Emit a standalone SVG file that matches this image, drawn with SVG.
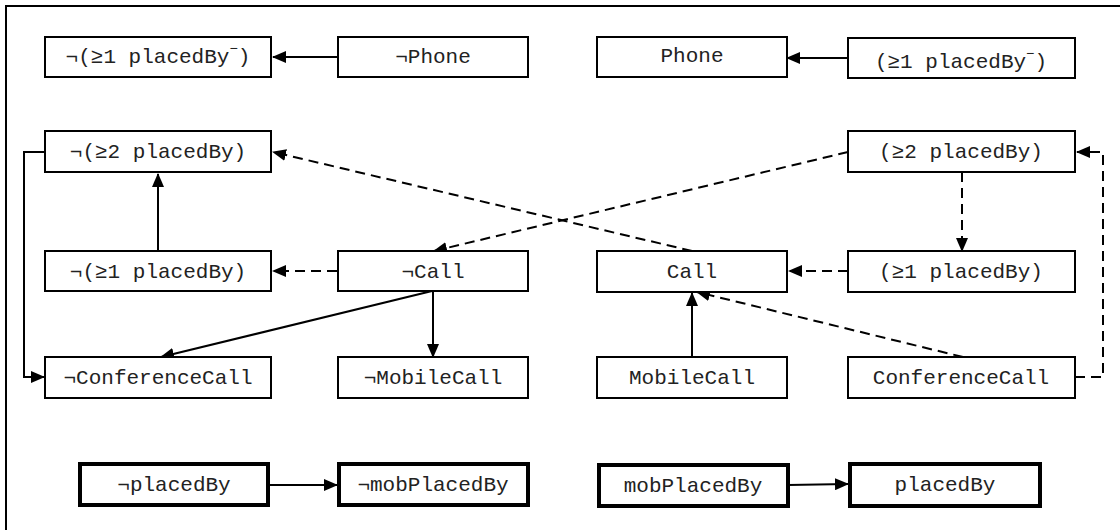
<svg xmlns="http://www.w3.org/2000/svg" width="1120" height="530" viewBox="0 0 1120 530">
<style>
.n{fill:#fff;stroke:#000;stroke-width:2}
.b{fill:#fff;stroke:#000;stroke-width:4}
text{font-family:"Liberation Mono","Courier New",monospace;font-size:21px;fill:#222;text-anchor:middle}
.e{fill:none;stroke:#000;stroke-width:2;marker-end:url(#ah)}
.d{stroke-dasharray:10,6}
</style>
<defs>
<marker id="ah" markerUnits="userSpaceOnUse" markerWidth="14" markerHeight="12" refX="13" refY="6" orient="auto">
<path d="M0,0 L14,6 L0,12 Z" fill="#000"/>
</marker>
</defs>
<rect x="6" y="6" width="1130" height="540" fill="#fff" stroke="#000" stroke-width="2"/>
<g id="connectors">
<line class="e" x1="338" y1="57" x2="273" y2="57"/>
<line class="e" x1="848" y1="58" x2="787" y2="58"/>
<line class="e d" x1="692" y1="251" x2="273" y2="152"/>
<line class="e d" x1="848" y1="152" x2="434" y2="251"/>
<line class="e d" x1="962" y1="172" x2="962" y2="251"/>
<line class="e d" x1="848" y1="271" x2="789" y2="271"/>
<line class="e d" x1="337" y1="271" x2="273" y2="271"/>
<line class="e" x1="158" y1="251" x2="158" y2="174"/>
<path class="e" d="M44,152 H24 V377 H44"/>
<line class="e" x1="432" y1="291" x2="161" y2="357"/>
<line class="e" x1="433" y1="291" x2="433" y2="357"/>
<line class="e" x1="692" y1="357" x2="692" y2="293"/>
<line class="e d" x1="963" y1="357" x2="697" y2="292"/>
<path class="e d" d="M1075,377 H1103 V152 H1077"/>
<line class="e" x1="268" y1="485" x2="337" y2="485"/>
<line class="e" x1="788" y1="485" x2="848" y2="484"/>
</g>
<g id="n_not_ge1_inv"><rect class="n" x="45" y="37" width="226" height="40"/><text x="158" y="63">¬(≥1 placedBy<tspan font-size="14" dy="-10">−</tspan><tspan dy="10">)</tspan></text></g>
<g id="n_not_phone"><rect class="n" x="338" y="37" width="190" height="40"/><text x="433" y="63">¬Phone</text></g>
<g id="n_phone"><rect class="n" x="597" y="37" width="190" height="40"/><text x="692" y="62">Phone</text></g>
<g id="n_ge1_inv"><rect class="n" x="848" y="38" width="227" height="40"/><text x="961" y="68">(≥1 placedBy<tspan font-size="14" dy="-10">−</tspan><tspan dy="10">)</tspan></text></g>
<g id="n_not_ge2"><rect class="n" x="45" y="131" width="226" height="41"/><text x="158" y="158">¬(≥2 placedBy)</text></g>
<g id="n_ge2"><rect class="n" x="848" y="131" width="227" height="41"/><text x="961" y="158">(≥2 placedBy)</text></g>
<g id="n_not_ge1"><rect class="n" x="45" y="251" width="226" height="40"/><text x="158" y="278">¬(≥1 placedBy)</text></g>
<g id="n_not_call"><rect class="n" x="338" y="251" width="190" height="40"/><text x="433" y="278">¬Call</text></g>
<g id="n_call"><rect class="n" x="597" y="251" width="190" height="41"/><text x="692" y="278">Call</text></g>
<g id="n_ge1"><rect class="n" x="848" y="251" width="227" height="41"/><text x="961" y="278">(≥1 placedBy)</text></g>
<g id="n_not_conf"><rect class="n" x="45" y="357" width="226" height="41"/><text x="158" y="384">¬ConferenceCall</text></g>
<g id="n_not_mobile"><rect class="n" x="338" y="357" width="190" height="41"/><text x="433" y="384">¬MobileCall</text></g>
<g id="n_mobile"><rect class="n" x="597" y="357" width="190" height="41"/><text x="692" y="384">MobileCall</text></g>
<g id="n_conf"><rect class="n" x="848" y="357" width="227" height="41"/><text x="961" y="384">ConferenceCall</text></g>
<g id="n_not_placedby"><rect class="b" x="80" y="464" width="188" height="41"/><text x="174" y="491">¬placedBy</text></g>
<g id="n_not_mobplacedby"><rect class="b" x="339" y="464" width="189" height="41"/><text x="433" y="491">¬mobPlacedBy</text></g>
<g id="n_mobplacedby"><rect class="b" x="599" y="465" width="189" height="41"/><text x="693" y="492">mobPlacedBy</text></g>
<g id="n_placedby"><rect class="b" x="850" y="464" width="190" height="42"/><text x="945" y="491">placedBy</text></g>
</svg>
